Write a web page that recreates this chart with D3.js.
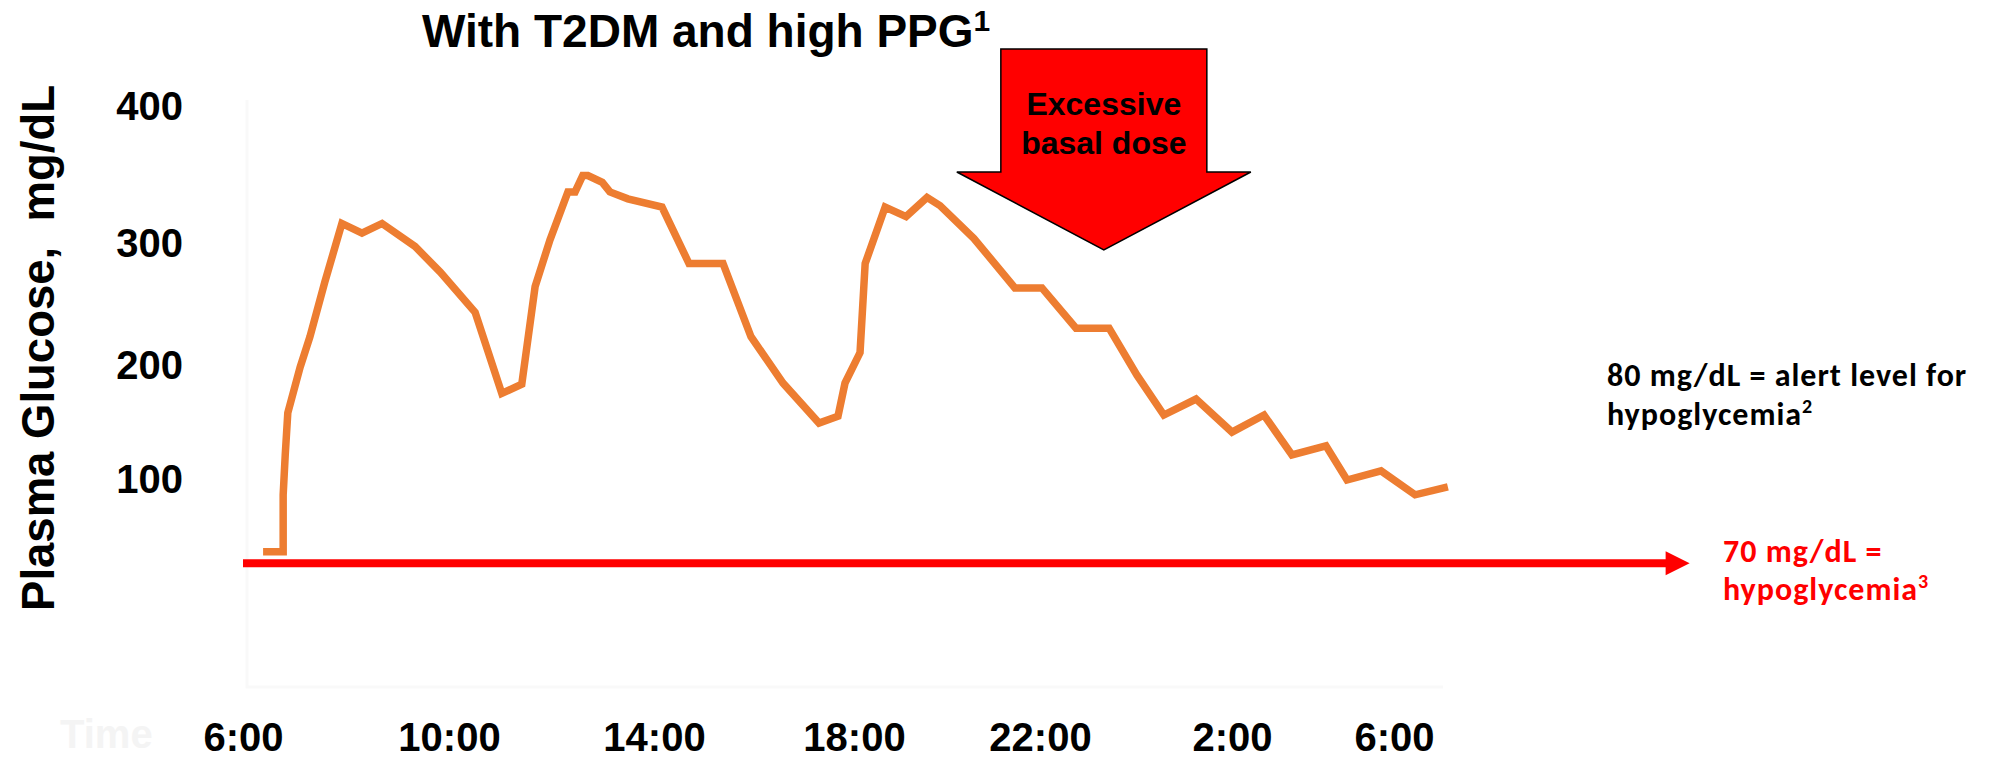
<!DOCTYPE html>
<html>
<head>
<meta charset="utf-8">
<script src="https://cdn.jsdelivr.net/npm/d3@7"></script>
<style>
  html, body { margin: 0; padding: 0; background: #fff; }
  svg { display: block; }
</style>
</head>
<body>
<svg width="2006" height="758"></svg>
<script>
// glucose trace: time in hours (values above 24 are the next morning)
const hours = [6.39, 6.78, 6.78, 6.82, 6.87, 7.11, 7.30, 7.59, 7.92, 8.31, 8.70, 9.34, 9.83,
  10.51, 11.03, 11.42, 11.68, 11.97, 12.32, 12.46, 12.61, 12.71, 12.99, 13.14, 13.49,
  14.16, 14.70, 15.38, 15.94, 16.58, 17.30, 17.68, 17.82, 18.13, 18.24, 18.67, 19.12,
  19.57, 19.85, 20.58, 21.46, 22.04, 22.75, 23.44, 24.02, 24.58, 25.25, 26.00, 26.79,
  27.48, 28.32, 28.84, 29.68, 30.52, 31.33];
const glucose = [37, 37, 87, 122, 159, 199, 224, 269, 315, 308, 315, 298, 277,
  244, 176, 184, 265, 303, 338, 338, 350, 350, 345, 338, 333,
  327, 284, 284, 224, 185, 150, 156, 185, 211, 284, 327, 320,
  334, 328, 304, 264, 264, 231, 231, 192, 157, 171, 142, 157,
  122, 130, 100, 108, 87, 94];

const tickHours = [6, 10, 14, 18, 22, 26, 30];
const yTicks = [100, 200, 300, 400];

// red hypoglycemia arrow, as drawn on the chart's scale
const hypoLevel = 27;
const hypoSpan = [6, 37.3];

// "Excessive basal dose" arrow points at this time
const basalHour = 23.33;

const svg = d3.select("svg");
const arial = "'Liberation Sans', Arial, Helvetica, sans-serif";
const calibri = "Carlito, Calibri, Lato, sans-serif";

// the printed tick labels are not evenly spaced, so the scales go through each one
const x = d3.scaleLinear()
  .domain(tickHours)
  .range([243, 449, 654, 854, 1040, 1232, 1394]);

const y = d3.scaleLinear()
  .domain(yTicks)
  .range([480, 366, 244, 107]);

const data = hours.map((h, i) => ({ h, v: glucose[i] }));

// almost invisible frame left over from the original axis
svg.append("path")
  .attr("d", "M247,100V687H1443")
  .attr("fill", "none")
  .attr("stroke", "#f9f9f9")
  .attr("stroke-width", 3);

svg.append("text")
  .attr("x", 60)
  .attr("y", 748)
  .attr("font-family", arial)
  .attr("font-weight", "bold")
  .attr("font-size", 40)
  .attr("fill", "#f4f4f4")
  .text("Time");

// axes
const yAxis = svg.append("g")
  .attr("transform", "translate(190,0)")
  .call(d3.axisLeft(y).tickValues(yTicks).tickSize(0).tickPadding(7));
yAxis.select(".domain").remove();
yAxis.selectAll("text")
  .attr("font-family", arial)
  .attr("font-weight", "bold")
  .attr("font-size", 40)
  .attr("fill", "#000");

const xAxis = svg.append("g")
  .attr("transform", "translate(0,690)")
  .call(d3.axisBottom(x).tickValues(tickHours).tickSize(0).tickPadding(33)
    .tickFormat(h => (h % 24) + ":00"));
xAxis.select(".domain").remove();
xAxis.selectAll("text")
  .attr("font-family", arial)
  .attr("font-weight", "bold")
  .attr("font-size", 40)
  .attr("fill", "#000");

svg.append("text")
  .attr("transform", "translate(54,348) rotate(-90)")
  .attr("text-anchor", "middle")
  .attr("font-family", arial)
  .attr("font-weight", "bold")
  .attr("font-size", 45.5)
  .style("white-space", "pre")
  .text("Plasma Glucose,  mg/dL");

// title
const title = svg.append("text")
  .attr("x", 422)
  .attr("y", 47)
  .attr("font-family", arial)
  .attr("font-weight", "bold")
  .attr("font-size", 46);
title.append("tspan").text("With T2DM and high PPG");
title.append("tspan").attr("font-size", 30).attr("dy", -16).text("1");

// hypoglycemia threshold arrow
const hy = y(hypoLevel);
const hx0 = x(hypoSpan[0]);
const hx1 = x(hypoSpan[1]);
svg.append("line")
  .attr("x1", hx0).attr("x2", hx1 - 22)
  .attr("y1", hy).attr("y2", hy)
  .attr("stroke", "#ff0000")
  .attr("stroke-width", 8);
svg.append("path")
  .attr("d", `M${hx1 - 24},${hy - 12}L${hx1},${hy}L${hx1 - 24},${hy + 12}Z`)
  .attr("fill", "#ff0000");

// glucose line
svg.append("path")
  .datum(data)
  .attr("fill", "none")
  .attr("stroke", "#ED7D31")
  .attr("stroke-width", 7.5)
  .attr("d", d3.line().x(d => x(d.h)).y(d => y(d.v)));

// big block arrow
const ax = x(basalHour);
const arrowPts = [
  [ax - 103, 49], [ax + 103, 49], [ax + 103, 172], [ax + 147, 172],
  [ax, 250], [ax - 147, 172], [ax - 103, 172]
];
svg.append("path")
  .attr("d", "M" + arrowPts.join("L") + "Z")
  .attr("fill", "#ff0000")
  .attr("stroke", "#000")
  .attr("stroke-width", 1.5);

svg.append("text")
  .attr("text-anchor", "middle")
  .attr("font-family", arial)
  .attr("font-weight", "bold")
  .attr("font-size", 32)
  .selectAll("tspan")
  .data(["Excessive", "basal dose"])
  .join("tspan")
  .attr("x", ax)
  .attr("y", (d, i) => 115 + i * 39)
  .text(d => d);

// notes on the right
const note80 = svg.append("text")
  .attr("font-family", calibri)
  .attr("font-weight", "bold")
  .attr("font-size", 32)
  .attr("letter-spacing", 1)
  .attr("fill", "#000");
note80.append("tspan").attr("x", 1607).attr("y", 386).text("80 mg/dL = alert level for");
const n80b = note80.append("tspan").attr("x", 1607).attr("y", 425);
n80b.append("tspan").text("hypoglycemia");
n80b.append("tspan").attr("font-size", 20).attr("dy", -12).text("2");

const note70 = svg.append("text")
  .attr("font-family", calibri)
  .attr("font-weight", "bold")
  .attr("font-size", 32)
  .attr("letter-spacing", 1)
  .attr("fill", "#ff0000");
note70.append("tspan").attr("x", 1723).attr("y", 562).text("70 mg/dL =");
const n70b = note70.append("tspan").attr("x", 1723).attr("y", 600);
n70b.append("tspan").text("hypoglycemia");
n70b.append("tspan").attr("font-size", 20).attr("dy", -12).text("3");
</script>
</body>
</html>
